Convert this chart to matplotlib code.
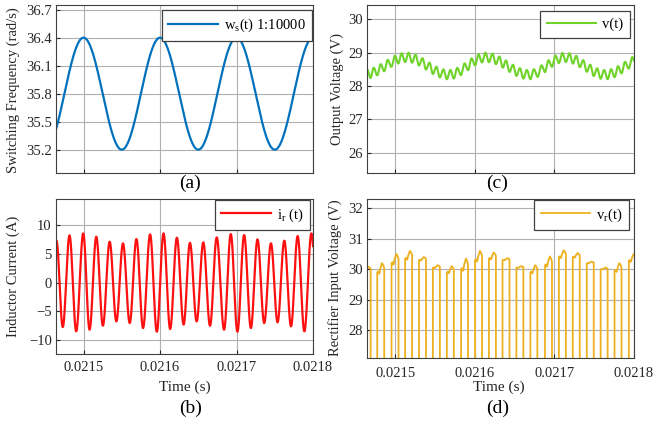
import numpy as np
import matplotlib
matplotlib.use('Agg')
import matplotlib.pyplot as plt

plt.rcParams['font.family'] = ['Liberation Serif', 'DejaVu Serif']
plt.rcParams['mathtext.fontset'] = 'custom'
plt.rcParams['mathtext.rm'] = 'Liberation Serif'
plt.rcParams['mathtext.it'] = 'Liberation Serif:italic'

# ---- data ----
# (a) switching frequency, extrema (rad/s, scaled 1:10000)
ws_t = [0.02145, 0.02150, 0.02155, 0.02160, 0.02165, 0.02170, 0.02175, 0.02180]
ws_v = [35.2, 36.4, 35.2, 36.4, 35.2, 36.4, 35.2, 36.4]

# (b) inductor current, positive peaks and negative troughs
ir_peak_t = [0.02146457, 0.02148163, 0.02149961, 0.02151667, 0.02153412,
             0.02155157, 0.02156916, 0.02158701, 0.02160459, 0.02162204,
             0.02163910, 0.02165656, 0.02167414, 0.02169251, 0.02170997,
             0.02172742, 0.02174501, 0.02176246, 0.02177991, 0.02179789]
ir_peak_v = [7.26, 8.18, 8.53, 7.95, 7.09, 6.80, 7.55, 8.36, 8.53, 7.78,
             6.90, 6.97, 7.84, 8.41, 8.24, 7.49, 6.80, 7.26, 8.07, 8.53]
ir_trough_t = [0.02145590, 0.02147284, 0.02149042, 0.02150787, 0.02152533,
               0.02154291, 0.02156037, 0.02157782, 0.02159580, 0.02161325,
               0.02163084, 0.02164790, 0.02166535, 0.02168372, 0.02170118,
               0.02171876, 0.02173621, 0.02175367, 0.02177126, 0.02178871,
               0.02180660]
ir_trough_v = [-7.0, -7.72, -8.47, -8.18, -7.49, -6.74, -7.03, -7.90, -8.53,
               -8.07, -7.30, -6.74, -7.49, -8.18, -8.53, -7.90, -7.03, -6.90,
               -7.60, -8.47, -7.5]

# (c) output voltage, slow extrema of the mean and ripple peak-to-peak
v_t = [0.021462, 0.021514, 0.021567, 0.021614, 0.021668, 0.021713, 0.021764, 0.021815]
v_mean = [28.36, 28.86, 28.34, 28.86, 28.34, 28.86, 28.34, 28.86]
v_ripple = 0.28

# (d) rectifier input voltage, pulse level at start and top of each pulse
vr_start = [29.95, 29.90, 30.20, 30.35, 30.30, 30.05, 29.90, 30.00, 30.30, 30.35,
            30.30, 30.05, 29.90, 30.13, 30.40, 30.40, 30.20, 30.00, 29.95, 30.28]
vr_top = [30.08, 30.20, 30.50, 30.60, 30.40, 30.13, 30.10, 30.35, 30.60, 30.55,
          30.36, 30.10, 30.13, 30.42, 30.62, 30.53, 30.25, 30.05, 30.20, 30.50]
vr_low = -30.0

xticks = [0.0215, 0.0216, 0.0217, 0.0218]
xtick_labels = ['0.0215', '0.0216', '0.0217', '0.0218']
xlim = (0.021464, 0.0218)


def ease(te, ve, t):
    # smooth (half-cosine) curve through successive extrema
    te = np.asarray(te)
    ve = np.asarray(ve)
    i = np.clip(np.searchsorted(te, t) - 1, 0, len(te) - 2)
    u = np.clip((t - te[i]) / (te[i + 1] - te[i]), 0, 1)
    return ve[i] + (ve[i + 1] - ve[i]) * (1 - np.cos(np.pi * u)) / 2


t = np.linspace(0.02145, 0.02181, 30000)

# (a)
ws = ease(ws_t, ws_v, t)

# (b)
te_b = np.concatenate([ir_peak_t, ir_trough_t])
ve_b = np.concatenate([ir_peak_v, ir_trough_v])
o = np.argsort(te_b)
ir = ease(te_b[o], ve_b[o], t)

# (c) ripple maxima at current extrema, minima half way between
rmax_t = te_b[o]
rmin_t = (rmax_t[:-1] + rmax_t[1:]) / 2
te_c = np.sort(np.concatenate([rmax_t, rmin_t]))
is_max = np.isin(te_c, rmax_t)
ve_c = ease(v_t, v_mean, te_c) + np.where(is_max, v_ripple / 2, -v_ripple / 2)
vout = ease(te_c, ve_c, t)

# (d) pulses centred on the current peaks
half = np.mean(np.diff(ir_peak_t)) / 4
shape_f = [0, 0.12, 0.28, 0.5, 0.68, 0.85, 1.0]
shape_r = [0, 0.1, -0.15, 0.55, 1.0, 0.8, 0.45]
td, vd = [], []
for c, s, p in zip(ir_peak_t, vr_start, vr_top):
    tt = np.linspace(c - half, c + half, 60)
    f = (tt - (c - half)) / (2 * half)
    top = s + (p - s) * ease(shape_f, shape_r, f)
    td += [c - half] + list(tt) + [c + half]
    vd += [vr_low] + list(top) + [vr_low]

W, H = 655, 423
fig = plt.figure(figsize=(W / 100, H / 100), dpi=100)


def make_ax(l, r, top, bot):
    return fig.add_axes([l / W, 1 - bot / H, (r - l) / W, (bot - top) / H])


ax_a = make_ax(56, 313, 5, 173)
ax_b = make_ax(56, 313, 199, 354)
ax_c = make_ax(366.7, 634, 5, 173)
ax_d = make_ax(366.7, 634, 199, 357.7)

ax_a.plot(t, ws, color='#0072BD', lw=1.6, label=r'w$_\mathregular{s}$(t) 1:10000')
ax_b.plot(t, ir, color='#FF1010', lw=1.6, label=r'i$_\mathregular{r}$ (t)')
ax_c.plot(t, vout, color='#6FD32A', lw=1.5, label='v(t)')
ax_d.plot(td, vd, color='#EDB120', lw=1.3, label=r'v$_\mathregular{r}$(t)')

ax_a.set_ylim(34.95, 36.75)
ax_a.set_yticks([35.2, 35.5, 35.8, 36.1, 36.4, 36.7])
ax_b.set_ylim(-12.4, 14.5)
ax_b.set_yticks([-10, -5, 0, 5, 10])
ax_c.set_ylim(25.39, 30.43)
ax_c.set_yticks([26, 27, 28, 29, 30])
ax_d.set_ylim(27.09, 32.31)
ax_d.set_yticks([28, 29, 30, 31, 32])

for ax in (ax_a, ax_b, ax_c, ax_d):
    ax.set_xlim(*xlim)
    ax.set_xticks(xticks)
    ax.set_xticklabels(xtick_labels)
    ax.grid(True, color='#b0b0b0', lw=0.8)
    ax.set_axisbelow(True)
    ax.tick_params(direction='in', length=3, labelsize=10.5, colors='#262626',
                   pad=3)
    for sp in ax.spines.values():
        sp.set_color('#404040')
        sp.set_linewidth(0.8)
ax_b.tick_params(axis='x', pad=5)
ax_d.tick_params(axis='x', pad=7)
for ax in (ax_a, ax_c):
    ax.tick_params(labelbottom=False)

leg_kw = dict(loc='upper right', fontsize=10.5, handlelength=3.4, fancybox=False,
              framealpha=1, edgecolor='#404040', borderaxespad=0,
              borderpad=0.45, handletextpad=0.4)
for ax, anchor in ((ax_a, (0.996, 0.97)), (ax_b, (0.988, 0.995)),
                   (ax_c, (0.985, 0.962)), (ax_d, (0.981, 0.995))):
    lg = ax.legend(bbox_to_anchor=anchor, **leg_kw)
    lg.get_frame().set_linewidth(0.9)

ylab = [(13, 90, 'Switching Frequency (rad/s)'),
        (13, 276.5, 'Inductor Current (A)'),
        (337, 89, 'Output Voltage (V)'),
        (335, 278, 'Rectifier Input Voltage (V)')]
for x, y, s in ylab:
    fig.text(x / W, 1 - y / H, s, rotation=90, ha='center', va='center',
             fontsize=10.5, color='#262626')

for x, y in ((185, 387), (499, 387)):
    fig.text(x / W, 1 - y / H, 'Time (s)', ha='center', va='center',
             fontsize=11, color='#262626')

for x, y, s in ((190, 183, '(a)'), (497, 183, '(c)'),
                (191, 408, '(b)'), (498, 408, '(d)')):
    fig.text(x / W, 1 - y / H, s, ha='center', va='center', fontsize=14)

fig.savefig('out.png', dpi=100)
